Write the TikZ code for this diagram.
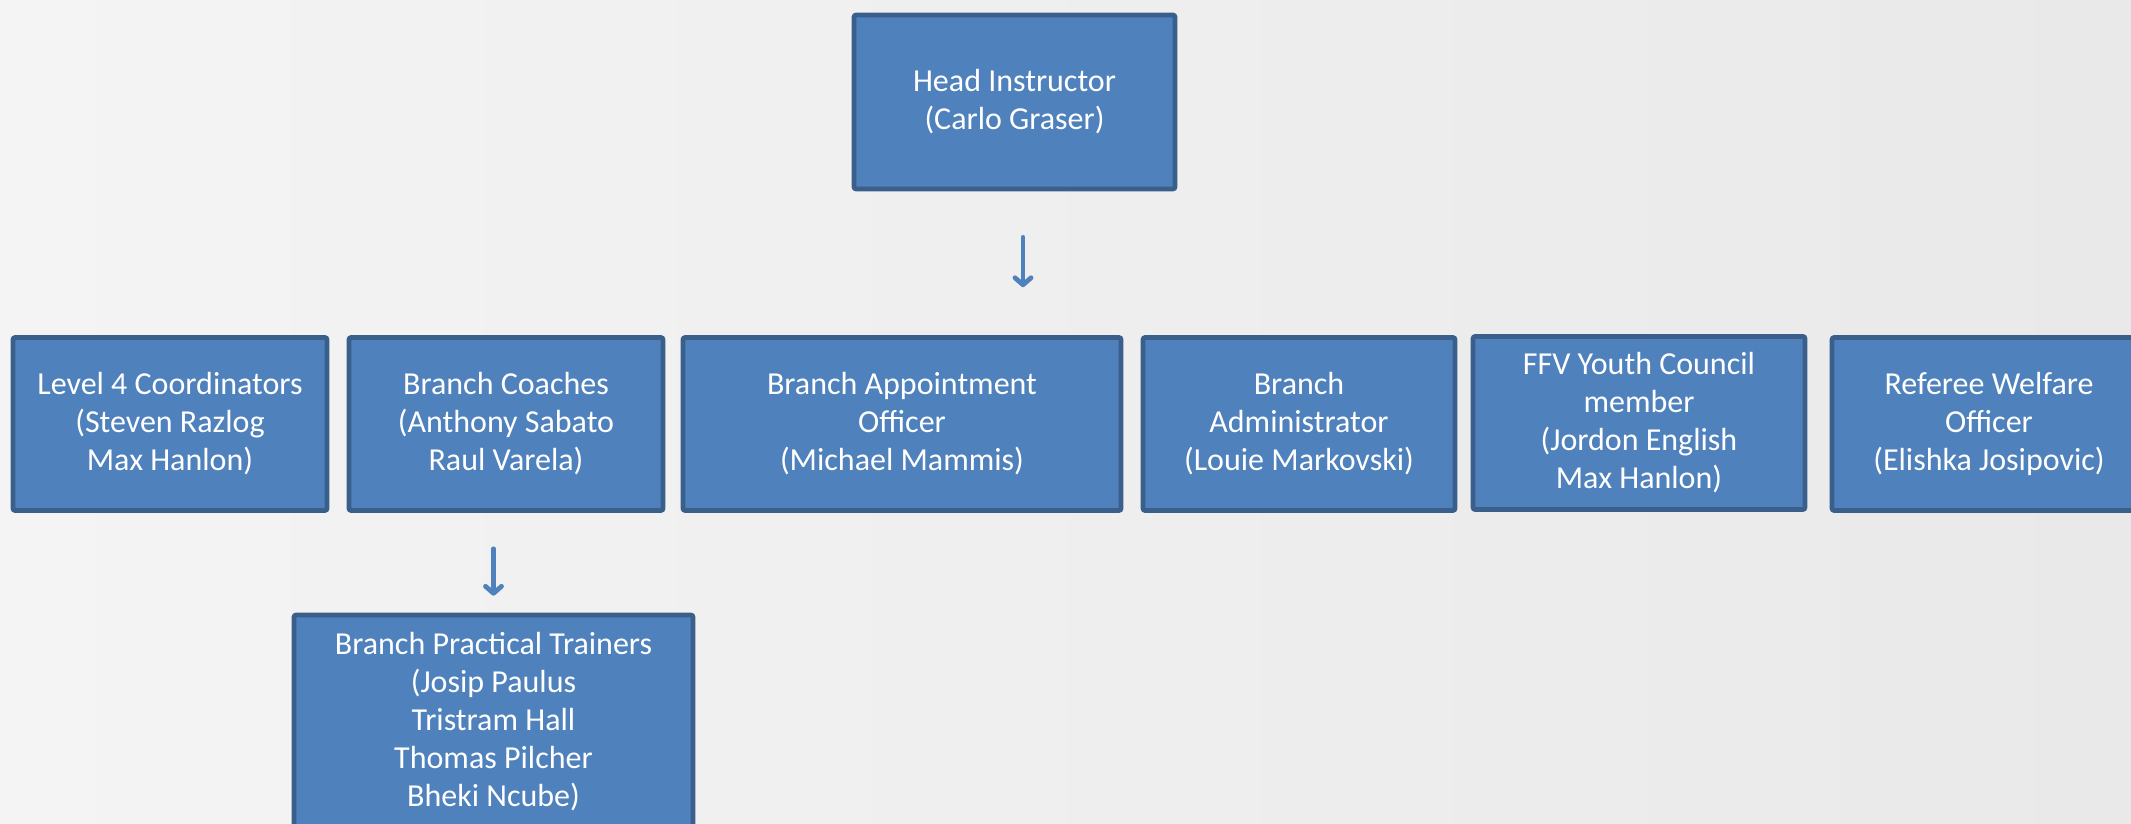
\documentclass[tikz,border=0pt]{standalone}
\usepackage{fontspec}
\setmainfont{Carlito}
\usetikzlibrary{arrows.meta}
\definecolor{boxblue}{HTML}{4F81BD}
\definecolor{boxedge}{HTML}{3A5F8B}
\definecolor{paper}{HTML}{E9E9E9}
\begin{document}
\begin{tikzpicture}[x=0.5pt,y=-0.5pt,
	post/.style={draw=boxedge,line width=2.3pt,fill=boxblue,text=white,align=center,inner sep=0pt,rounded corners=1pt,minimum height=86.5pt,font=\fontsize{16}{19}\selectfont},
	down/.style={draw=boxblue,line width=2.4pt,line cap=round,-{Straight Barb[round,length=3.5pt,width=8pt]}}]
		\shade[left color=paper!50!white,right color=paper] (0,0) rectangle (2131,824) ;
		\useasboundingbox (0,0) rectangle (2131,824) ;
		\node[post,minimum width=160.5pt,minimum height=87pt] (head) at (1014.5,102) {Head Instructor\\(Carlo Graser)} ;
		\node[post,minimum width=157pt] (lvl) at (170,424) {Level 4 Coordinators\\(Steven Razlog\\Max Hanlon)} ;
		\node[post,minimum width=157pt] (coach) at (506,424) {Branch Coaches\\(Anthony Sabato\\Raul Varela)} ;
		\node[post,minimum width=219pt] (appt) at (902,424) {Branch Appointment\\Officer\\(Michael Mammis)} ;
		\node[post,minimum width=156pt] (admin) at (1299,424) {Branch\\Administrator\\(Louie Markovski)} ;
		\node[post,minimum width=166pt] (youth) at (1639,423) {FFV Youth Council\\member\\(Jordon English\\Max Hanlon)} ;
		\node[post,minimum width=157pt] (ref) at (1989,424) {Referee Welfare\\Officer\\(Elishka Josipovic)} ;
		\node[post,minimum width=199.5pt,minimum height=107pt] (train) at (493.5,722) {Branch Practical Trainers\\(Josip Paulus\\Tristram Hall\\Thomas Pilcher\\Bheki Ncube)} ;
		\draw[down,shorten <=23pt,shorten >=24pt] ([xshift=4.25pt]head.south) -- ([xshift=4.25pt]head.south |- appt.north) ;
		\draw[down,shorten <=18pt,shorten >=8.5pt] (coach.south -| train.north) -- (train.north) ;
	\end{tikzpicture}
\end{document}
